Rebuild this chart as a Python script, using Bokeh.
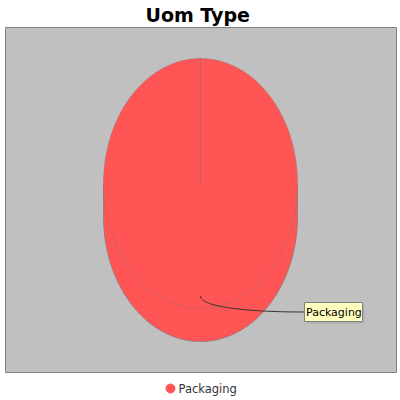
import numpy as np
from bokeh.plotting import figure
from bokeh.models import Range1d
from bokeh.core.properties import value
from bokeh.embed import file_html
from bokeh.resources import INLINE

# ---- data ----
chart_title = "Uom  Type"
labels = ["Packaging"]
values = [100.0]
colors = ["#FF5555"]

# ---- layout constants ----
W, H = 400, 400
cx, cy, rx, ry, depth = 200.0, 183.0, 97.0, 125.0, 33.0

p = figure(width=W, height=H, output_backend="svg", toolbar_location=None,
           x_range=Range1d(0, W), y_range=Range1d(H, 0),
           x_axis_type=None, y_axis_type=None, min_border=0)
p.outline_line_color = None
p.background_fill_color = "white"
p.border_fill_color = "white"
p.xgrid.visible = False
p.ygrid.visible = False

# title
p.text(x=[200.5], y=[14.5], text=[chart_title], text_font=value("DejaVu Sans"),
       text_font_style="bold", text_font_size="19px", text_align="center",
       text_baseline="middle", text_color="black")

# plot area
p.quad(left=[5], right=[396], top=[27], bottom=[372], fill_color="#C0C0C0",
       line_color="#808080", line_width=1)

# 3D side: lower half of ellipse shifted by depth
th = np.linspace(0, np.pi, 200)
sx = list(cx + rx * np.cos(th)) + [cx - rx, cx + rx]
sy = list(cy + depth + ry * np.sin(th)) + [cy, cy]
p.patch(sx, sy, fill_color=colors[0], line_color="#8a7070", line_width=1, line_alpha=0.7)

total = sum(values)
start = 90.0
anchors = []
for lab, v, c in zip(labels, values, colors):
    ext = v / total * 360.0
    a0, a1 = start, start - ext
    ang = np.radians(np.linspace(a0, a1, 400))
    xs = [cx] + list(cx + rx * np.cos(ang)) + [cx]
    ys = [cy] + list(cy - ry * np.sin(ang)) + [cy]
    p.patch(xs, ys, fill_color=c, line_color="#8a7070", line_width=0.8, line_alpha=0.5)
    mid = np.radians(start - ext / 2)
    anchors.append((cx + 0.9 * rx * np.cos(mid), cy - 0.9 * ry * np.sin(mid)))
    start = a1

# labels with leader curves
box_l, box_r, box_t, box_b = 304, 362, 302, 321
for (axp, ayp), lab in zip(anchors, labels):
    ey = (box_t + box_b) / 2
    p.bezier(x0=[axp], y0=[ayp], x1=[box_l], y1=[ey], cx0=[axp], cy0=[ayp + 10],
             cx1=[axp + 40], cy1=[ey], line_color="#333333", line_width=1)
    p.quad(left=[box_l + 2], right=[box_r + 2], top=[box_t + 2], bottom=[box_b + 2],
           fill_color="#A0A0A0", fill_alpha=0.5, line_color=None)
    p.quad(left=[box_l], right=[box_r], top=[box_t], bottom=[box_b],
           fill_color="#FFFFC0", line_color="#808080", line_width=1)
    p.text(x=[box_l + 1.5], y=[ey + 0.5], text=[lab], text_font=value("DejaVu Sans"),
           text_font_size="11px", text_align="left", text_baseline="middle",
           text_color="black")

# legend
lx, ly = 170, 388
for i, (lab, c) in enumerate(zip(labels, colors)):
    p.scatter(x=[lx], y=[ly], size=9, marker="circle", fill_color=c, line_color=c)
    p.text(x=[lx + 8], y=[ly], text=[lab], text_font=value("DejaVu Sans"),
           text_font_size="11.5px", text_align="left", text_baseline="middle",
           text_color="#333333")

open("out.html", "w").write(file_html(p, INLINE))
